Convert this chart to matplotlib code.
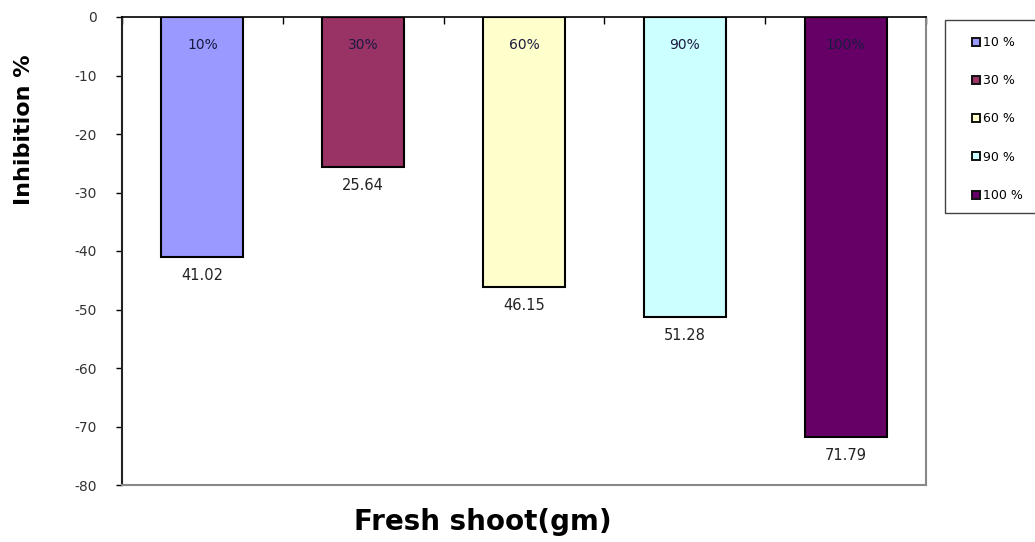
import matplotlib.pyplot as plt
from matplotlib.patches import Patch, Rectangle

plt.rcParams['font.family'] = ['DejaVu Sans']
plt.rcParams['axes.unicode_minus'] = False

categories = ['10%', '30%', '60%', '90%', '100%']
inhibition = [-41.02, -25.64, -46.15, -51.28, -71.79]
value_labels = ['41.02', '25.64', '46.15', '51.28', '71.79']
colors = ['#9999FF', '#993366', '#FFFFCC', '#CCFFFF', '#660066']
yticks = [0, -10, -20, -30, -40, -50, -60, -70, -80]
legend_labels = ['10 %', '30 %', '60 %', '90 %', '100 %']

W, H = 1035, 542
fig = plt.figure(figsize=(W / 100, H / 100), dpi=100)
ax = fig.add_axes([122 / W, 1 - 485 / H, (926 - 122) / W, (485 - 17) / H])

x = list(range(len(categories)))
ax.bar(x, inhibition, width=0.51, color=colors, edgecolor='black', linewidth=1.5, zorder=3)

for xi, v, cat, lab in zip(x, inhibition, categories, value_labels):
    ax.text(xi, -4.8, cat, ha='center', va='center', fontsize=10, color='#1a1a40', zorder=4)
    ax.text(xi, v - 3.1, lab, ha='center', va='center', fontsize=10.5, color='#222222')

ax.set_xlim(-0.5, len(categories) - 0.5)
ax.set_ylim(-80, 0)
ax.set_yticks(yticks)
ax.set_yticklabels([str(t) for t in yticks], fontsize=10, color='#333333')
ax.tick_params(axis='y', direction='out', length=4, width=1, pad=14)

# category boundary ticks on the zero line (top)
ax.xaxis.tick_top()
ax.set_xticks([i - 0.5 for i in range(len(categories) + 1)])
ax.set_xticklabels([])
ax.tick_params(axis='x', direction='in', length=5, width=1)

ax.spines['top'].set_color('black')
ax.spines['top'].set_linewidth(1.2)
ax.spines['left'].set_color('#222222')
ax.spines['left'].set_linewidth(1.5)
ax.spines['bottom'].set_color('#888888')
ax.spines['bottom'].set_linewidth(1.5)
ax.spines['right'].set_color('#888888')
ax.spines['right'].set_linewidth(1.5)

fig.text(24 / W, 1 - 130 / H, 'Inhibition %', rotation=90, ha='center', va='center',
         fontsize=16, fontweight='bold')
fig.text(483 / W, 1 - 522 / H, 'Fresh shoot(gm)', ha='center', va='center',
         fontsize=20, fontweight='bold')

# legend frame running off the right edge
fig.patches.append(Rectangle((945 / W, 1 - 213 / H), 100 / W, 193 / H,
                             transform=fig.transFigure, facecolor='white',
                             edgecolor='#444444', linewidth=1.0, zorder=1))

handles = [Patch(facecolor=c, edgecolor='#111111', linewidth=1.4) for c in colors]
leg = fig.legend(handles, legend_labels, loc='upper left',
                 bbox_to_anchor=(972 / W, 1 - 36 / H), frameon=False, fontsize=9,
                 handlelength=0.6, handleheight=0.6, handletextpad=0.25,
                 labelspacing=2.02, borderpad=0, borderaxespad=0)
leg.set_zorder(2)

fig.savefig('out.png', dpi=100)
